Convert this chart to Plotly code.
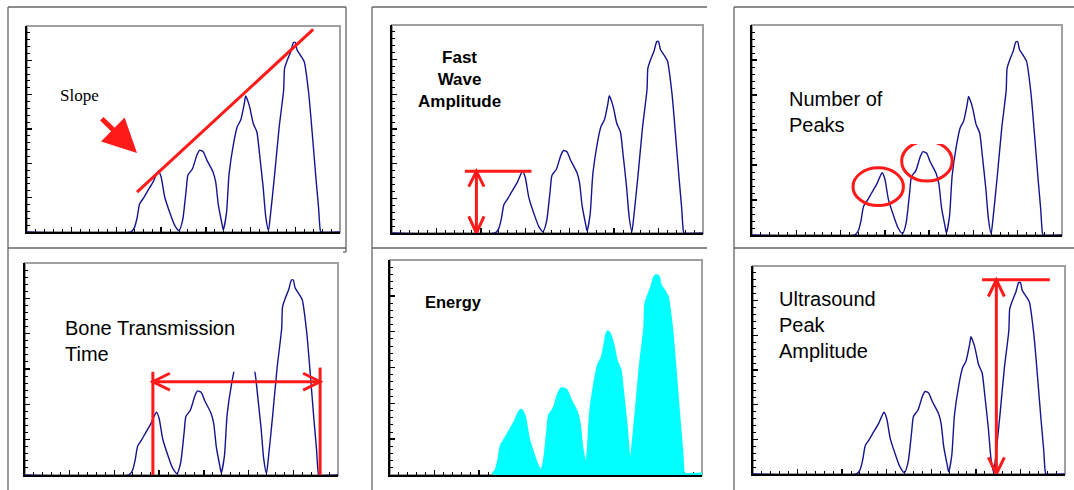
import plotly.graph_objects as go

W, H = 1074, 490

# ---- waveform, x in minor-tick units (0..35), y in minor-tick units (0..30)
WAVE_X = [0, 11.6, 12.0, 12.3, 12.6, 13.0, 13.5, 14.1, 14.4, 14.7, 15.0, 15.4, 16.0, 16.5, 17.0,
          17.4, 17.8, 18.0, 18.5, 19.0, 19.3, 19.7, 20.1, 20.8, 21.1, 21.4, 21.8, 21.95,
          22.3, 22.6, 23.1, 23.5, 23.9, 24.3, 24.45, 24.6, 24.9, 25.3, 25.7, 26.0, 26.4, 26.7, 27.0,
          27.2, 27.7, 28.2, 28.7, 28.8, 29.1, 29.5, 29.8, 30.0, 30.2, 30.7, 31.0, 31.5, 31.9, 32.3,
          32.6, 32.8, 32.9, 35]
WAVE_Y = [0, 0, 0.6, 2.0, 4.1, 4.9, 6.0, 7.3, 8.2, 8.9, 8.0, 5.1, 2.7, 1.0, 0.2,
          1.7, 6.1, 8.3, 9.2, 11.2, 11.9, 11.7, 10.5, 8.75, 7.3, 3.9, 1.2, 0.3,
          2.7, 8.5, 12.9, 15.3, 16.3, 18.7, 19.8, 19.4, 18.2, 15.8, 14.6, 11.4, 6.6, 2.2, 0.2,
          2.2, 8.5, 15.3, 20.7, 23.8, 25.0, 26.3, 27.6, 27.6, 26.5, 25.5, 24.8, 20.2, 14.3, 8.0,
          3.6, 0.2, 0, 0]

PANEL_LABELS = ["Slope", "Fast<br>Wave<br>Amplitude", "Number of<br>Peaks",
                "Bone Transmission<br>Time", "Energy", "Ultrasound<br>Peak<br>Amplitude"]

X_RANGE = [0, 35]
Y_RANGE = [0, 30]

# ---- annotation geometry (data units of each panel)
SLOPE_LINE_X = [12.3, 32.0]
SLOPE_LINE_Y = [5.8, 29.5]
SLOPE_ARROW_TAIL = (8.2, 16.7)
SLOPE_ARROW_HEAD = (12.3, 11.5)

FAST_WAVE_LEVEL = 8.9
FAST_WAVE_BAR_X = [8.2, 15.7]
FAST_WAVE_ARROW_X = 9.5

PEAK_CIRCLES = [(11.4, 4.2, 17.1, 9.6), (16.9, 7.7, 22.6, 13.4)]

BTT_START, BTT_END = 14.3, 33.0
BTT_LEVEL = 13.2
BTT_TICK_TOPS = [14.6, 15.2]

USPA_LEVEL = 28.0
USPA_BAR_X = [25.7, 33.3]
USPA_ARROW_X = 27.3

# ---- layout geometry in pixels (left, top, right, bottom) of each plot area
BOXES = [(27, 26, 340, 232), (392, 25, 703, 233), (752, 25, 1062, 235),
         (25, 263, 338, 475), (390, 260, 702, 475), (753, 266, 1065, 474)]
LABEL_POS = [(58, 95, "left"), (459, 80, "center"), (787, 112, "left"),
             (63, 341, "left"), (423, 302, "left"), (777, 325, "left")]
LABEL_FONT = [("Liberation Serif", 17, False), ("Liberation Sans", 17, True),
              ("Liberation Sans", 20, False), ("Liberation Sans", 20, False),
              ("Liberation Sans", 16.5, True), ("Liberation Sans", 20, False)]

BLUE = "#14148f"
RED = "#ff1a1a"
CYAN = "#00ffff"
FRAME = "#666666"

fig = go.Figure()
layout = dict(width=W, height=H, margin=dict(l=0, r=0, t=0, b=0),
              paper_bgcolor="white", plot_bgcolor="white", showlegend=False)

shapes = []
annotations = []

for i, (l, t, r, b) in enumerate(BOXES):
    n = i + 1
    sfx = "" if n == 1 else str(n)
    xa, ya = "x" + sfx, "y" + sfx
    axis_common = dict(showgrid=False, zeroline=False, showticklabels=False,
                       showline=True, linecolor="black", linewidth=2,
                       ticks="inside", ticklen=5, tickwidth=1.5, tickcolor="black",
                       tick0=0, dtick=5, layer="below traces", fixedrange=True,
                       minor=dict(ticks="inside", ticklen=3, tickwidth=1,
                                  tickcolor="black", dtick=1, showgrid=False))
    layout["xaxis" + sfx] = dict(axis_common, domain=[l / W, r / W], range=X_RANGE,
                                 anchor=ya)
    layout["yaxis" + sfx] = dict(axis_common, domain=[1 - b / H, 1 - t / H], range=Y_RANGE,
                                 anchor=xa)
    # gray frame of plot area
    shapes.append(dict(type="rect", xref=xa + " domain", yref=ya + " domain",
                       x0=0, x1=1, y0=0, y1=1, line=dict(color="#a0a0a0", width=2),
                       layer="below"))
    if n == 5:
        xs = [x for x in WAVE_X if x >= 11.6]
        ys = WAVE_Y[len(WAVE_X) - len(xs):]
        fig.add_trace(go.Scatter(x=xs, y=ys, xaxis=xa, yaxis=ya, mode="lines",
                                 fill="tozeroy", fillcolor=CYAN,
                                 line=dict(color=CYAN, width=5, shape="spline", smoothing=0.6),
                                 hoverinfo="skip"))
    else:
        fig.add_trace(go.Scatter(x=WAVE_X, y=WAVE_Y, xaxis=xa, yaxis=ya, mode="lines",
                                 line=dict(color=BLUE, width=1.4, shape="spline", smoothing=0.6),
                                 hoverinfo="skip"))

    lx, ly, anch = LABEL_POS[i]
    fam, size, bold = LABEL_FONT[i]
    txt = PANEL_LABELS[i]
    if bold:
        txt = "<b>" + txt.replace("<br>", "</b><br><b>") + "</b>"
    annotations.append(dict(text=txt, xref="paper", yref="paper", x=lx / W, y=1 - ly / H,
                            xanchor=anch, yanchor="middle", align=anch, showarrow=False,
                            font=dict(family=fam, size=size, color="black")))


def chevron(xref, yref, x, y, dx, dy, horizontal=False):
    if horizontal:
        path = f"M {x + dx},{y - dy} L {x},{y} L {x + dx},{y + dy}"
    else:
        path = f"M {x - dx},{y + dy} L {x},{y} L {x + dx},{y + dy}"
    return dict(type="path", xref=xref, yref=yref, path=path,
                line=dict(color=RED, width=3), layer="above")


def seg(xref, yref, x0, y0, x1, y1, w=3):
    return dict(type="line", xref=xref, yref=yref, x0=x0, y0=y0, x1=x1, y1=y1,
                line=dict(color=RED, width=w), layer="above")


# panel 1: slope line + arrow
shapes.append(seg("x", "y", SLOPE_LINE_X[0], SLOPE_LINE_Y[0], SLOPE_LINE_X[1], SLOPE_LINE_Y[1]))
annotations.append(dict(x=SLOPE_ARROW_HEAD[0], y=SLOPE_ARROW_HEAD[1], xref="x", yref="y",
                        ax=SLOPE_ARROW_TAIL[0], ay=SLOPE_ARROW_TAIL[1], axref="x", ayref="y",
                        text="", showarrow=True, arrowhead=2, arrowsize=1.35,
                        arrowwidth=5, arrowcolor=RED, standoff=0))

# panel 2: fast wave amplitude
shapes.append(seg("x2", "y2", FAST_WAVE_BAR_X[0], FAST_WAVE_LEVEL, FAST_WAVE_BAR_X[1], FAST_WAVE_LEVEL))
shapes.append(seg("x2", "y2", FAST_WAVE_ARROW_X, 0, FAST_WAVE_ARROW_X, FAST_WAVE_LEVEL))
shapes.append(chevron("x2", "y2", FAST_WAVE_ARROW_X, FAST_WAVE_LEVEL, 0.86, -2.2))
shapes.append(chevron("x2", "y2", FAST_WAVE_ARROW_X, 0, 0.86, 2.4))

# panel 3: number of peaks
for (x0, y0, x1, y1) in PEAK_CIRCLES:
    shapes.append(dict(type="circle", xref="x3", yref="y3", x0=x0, y0=y0, x1=x1, y1=y1,
                       line=dict(color=RED, width=3), layer="above"))
shapes.append(dict(type="rect", xref="x3", yref="y3", x0=16.5, x1=22.8, y0=13.0, y1=14.0,
                   fillcolor="white", line=dict(width=0), layer="above"))

# panel 4: bone transmission time
shapes.append(dict(type="rect", xref="x4", yref="y4", x0=4, x1=26, y0=14.6, y1=29.3,
                   fillcolor="white", line=dict(width=0), layer="above"))
shapes.append(seg("x4", "y4", BTT_START, 0, BTT_START, BTT_TICK_TOPS[0]))
shapes.append(seg("x4", "y4", BTT_END, 0, BTT_END, BTT_TICK_TOPS[1]))
shapes.append(seg("x4", "y4", BTT_START, BTT_LEVEL, BTT_END, BTT_LEVEL))
shapes.append(chevron("x4", "y4", BTT_START, BTT_LEVEL, 1.9, 1.2, horizontal=True))
shapes.append(chevron("x4", "y4", BTT_END, BTT_LEVEL, -1.9, 1.2, horizontal=True))

# panel 6: ultrasound peak amplitude
shapes.append(seg("x6", "y6", USPA_BAR_X[0], USPA_LEVEL, USPA_BAR_X[1], USPA_LEVEL))
shapes.append(seg("x6", "y6", USPA_ARROW_X, 0, USPA_ARROW_X, USPA_LEVEL))
shapes.append(chevron("x6", "y6", USPA_ARROW_X, USPA_LEVEL, 0.9, -2.4))
shapes.append(chevron("x6", "y6", USPA_ARROW_X, 0, 0.9, 2.4))

# outer panel frames (paper coordinates, from pixel positions)
FRAME_SEGS = [
    (8, 7, 8, 490), (8, 7, 346, 7), (346, 7, 346, 252), (8, 248, 346, 248), (343, 252, 346, 252),
    (372, 7, 372, 490), (372, 7, 707, 7), (372, 248, 707, 248),
    (734, 7, 734, 490), (734, 7, 1074, 7), (734, 248, 1074, 248),
]
for (x0, y0, x1, y1) in FRAME_SEGS:
    shapes.append(dict(type="line", xref="paper", yref="paper",
                       x0=x0 / W, y0=1 - y0 / H, x1=x1 / W, y1=1 - y1 / H,
                       line=dict(color=FRAME, width=1.3), layer="below"))

layout["shapes"] = shapes
layout["annotations"] = annotations
fig.update_layout(**layout)
fig.write_html("out.html", config={"displayModeBar": False, "staticPlot": True},
               post_script="document.body.style.margin='0';document.body.style.overflow='hidden';")
